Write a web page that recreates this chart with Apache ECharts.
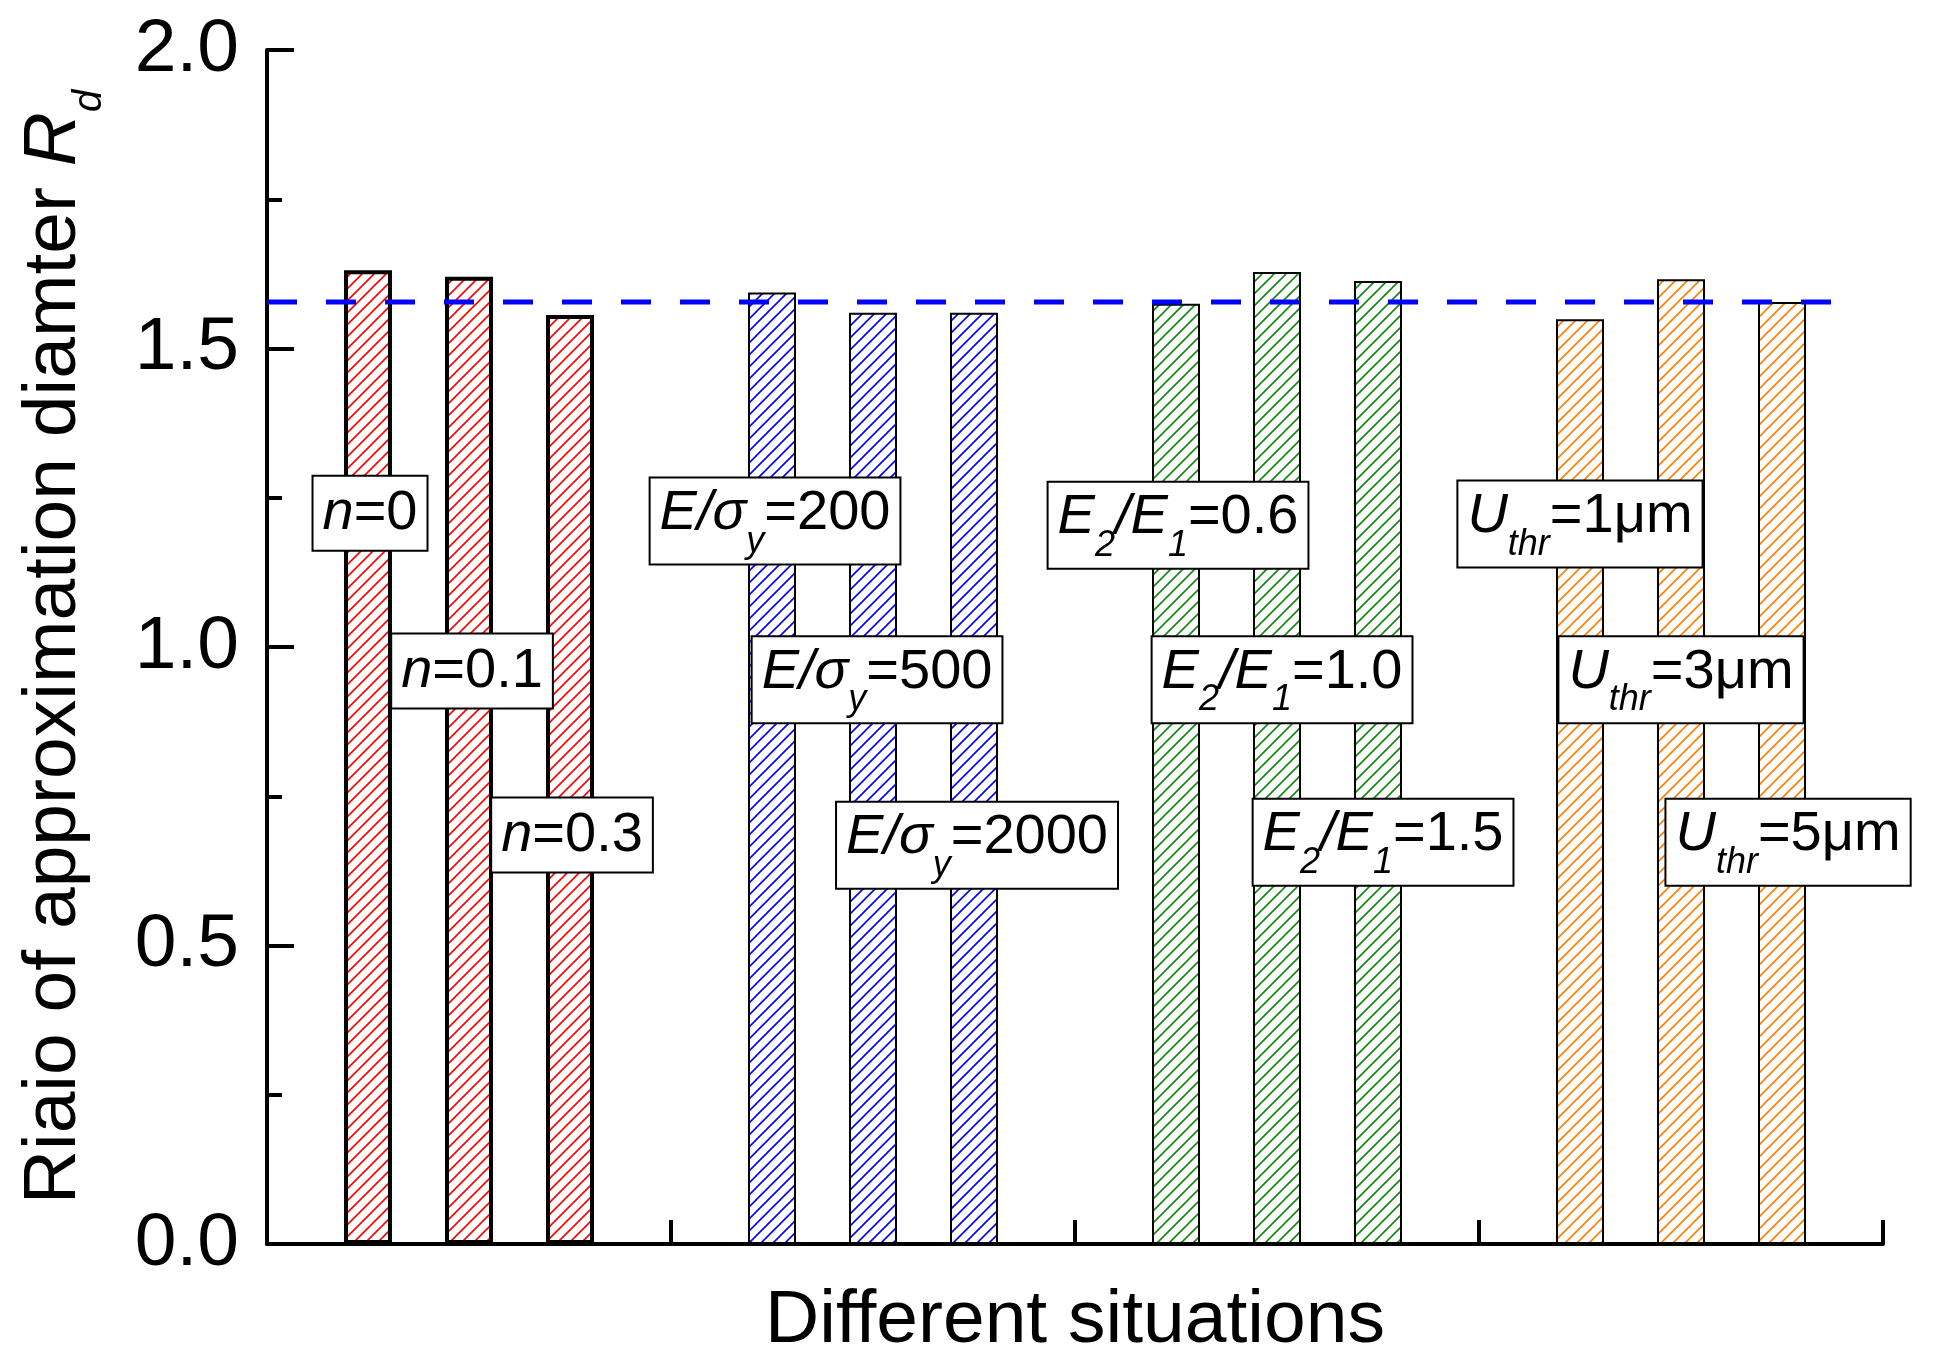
<!DOCTYPE html>
<html>
<head>
<meta charset="utf-8">
<title>Rd</title>
<script src="https://cdn.jsdelivr.net/npm/echarts@6/dist/echarts.min.js"></script>
<style>
html, body { margin: 0; padding: 0; background: #fff; }
#chart { width: 1935px; height: 1367px; }
</style>
</head>
<body>
<div id="chart"></div>
<script>
// 数据
var nX = [ 1, 2, 3 ], nValues = [ 1.631, 1.620, 1.556 ];
var eX = [ 5, 6, 7 ], eValues = [ 1.594, 1.560, 1.560 ];
var modX = [ 9, 10, 11 ], modValues = [ 1.575, 1.628, 1.613 ];
var uX = [ 13, 14, 15 ], uValues = [ 1.549, 1.616, 1.578 ];
var meanValue = 1.578, meanLineEnd = 15.5;
var labelTexts = [ '{i|n}{r|=0}', '{i|n}{r|=0.1}', '{i|n}{r|=0.3}',
		'{i|E/σ}{s|y}{r|=200}', '{i|E/σ}{s|y}{r|=500}', '{i|E/σ}{s|y}{r|=2000}',
		'{i|E}{s|2}{i|/E}{s|1}{r|=0.6}', '{i|E}{s|2}{i|/E}{s|1}{r|=1.0}', '{i|E}{s|2}{i|/E}{s|1}{r|=1.5}',
		'{i|U}{s|thr}{r|=1μm}', '{i|U}{s|thr}{r|=3μm}', '{i|U}{s|thr}{r|=5μm}' ];
var labelX = [ 1.02, 2.03, 3.02, 5.03, 6.04, 7.03, 9.02, 10.05, 11.05, 13.0, 14.0, 15.06 ];
var labelY = [ 1.224, 0.960, 0.685, 1.211, 0.945, 0.668, 1.204, 0.945, 0.673, 1.206, 0.945, 0.673 ];
var yTicks = [ '0.0', '0.5', '1.0', '1.5', '2.0' ];

var FONT = 'Liberation Sans, Arial, sans-serif';

// 斜线填充
function hatch(color) {
	var s = 12;
	var c = document.createElement('canvas');
	c.width = s;
	c.height = s;
	var ctx = c.getContext('2d');
	ctx.fillStyle = '#fff';
	ctx.fillRect(0, 0, s, s);
	ctx.strokeStyle = color;
	ctx.lineWidth = 1.6;
	ctx.beginPath();
	ctx.moveTo(0, s);
	ctx.lineTo(s, 0);
	ctx.moveTo(-2, 2);
	ctx.lineTo(2, -2);
	ctx.moveTo(s - 2, s + 2);
	ctx.lineTo(s + 2, s - 2);
	ctx.stroke();
	return {
		image : c,
		repeat : 'repeat'
	};
}

function pairs(xs, ys) {
	return xs.map(function(x, i) {
		return [ x, ys[i] ];
	});
}

function barSeries(name, xs, ys, color, border) {
	return {
		name : name,
		type : 'bar',
		barWidth : 48,
		barGap : '-100%',
		data : pairs(xs, ys),
		itemStyle : {
			color : hatch(color),
			borderColor : '#000',
			borderWidth : border
		}
	};
}

var labelData = labelTexts.map(function(t, i) {
	var hasSub = t.indexOf('{s|') >= 0;
	return {
		value : [ labelX[i], labelY[i] ],
		text : t,
		label : {
			padding : hasSub ? [ 7, 9, 4, 9 ] : [ 9, 9, 8, 9 ]
		}
	};
});

var chart = echarts.init(document.getElementById('chart'));
chart.setOption({
	animation : false,
	backgroundColor : '#fff',
	grid : {
		left : 267,
		right : 52,
		top : 50,
		bottom : 123,
		containLabel : false
	},
	xAxis : {
		type : 'value',
		min : 0,
		max : 16,
		interval : 4,
		name : 'Different situations',
		nameLocation : 'middle',
		nameGap : 40,
		nameTextStyle : {
			fontFamily : FONT,
			fontSize : 75,
			color : '#000'
		},
		axisLine : {
			lineStyle : {
				color : '#000',
				width : 4
			}
		},
		axisTick : {
			inside : true,
			length : 24,
			lineStyle : {
				color : '#000',
				width : 4
			}
		},
		minorTick : {
			show : true,
			splitNumber : 4,
			length : 24,
			lineStyle : {
				color : '#000',
				width : 4
			}
		},
		axisLabel : {
			show : false
		},
		splitLine : {
			show : false
		}
	},
	yAxis : {
		type : 'value',
		min : 0,
		max : 2,
		interval : 0.5,
		name : '{t|Riaio of approximation diamter }{it|R}{sd|d}',
		nameLocation : 'middle',
		nameGap : 157,
		nameTextStyle : {
			fontFamily : FONT,
			color : '#000',
			rich : {
				t : {
					fontFamily : FONT,
					fontSize : 75,
					verticalAlign : 'top'
				},
				it : {
					fontFamily : FONT,
					fontSize : 75,
					fontStyle : 'italic',
					verticalAlign : 'top'
				},
				sd : {
					fontFamily : FONT,
					fontSize : 40,
					fontStyle : 'italic',
					verticalAlign : 'bottom',
					lineHeight : 93
				}
			}
		},
		axisLine : {
			show : true,
			lineStyle : {
				color : '#000',
				width : 4
			}
		},
		axisTick : {
			show : true,
			inside : true,
			length : 27,
			lineStyle : {
				color : '#000',
				width : 4
			}
		},
		minorTick : {
			show : true,
			splitNumber : 2,
			length : 15,
			lineStyle : {
				color : '#000',
				width : 4
			}
		},
		axisLabel : {
			margin : 28,
			fontFamily : FONT,
			fontSize : 75,
			color : '#000',
			formatter : function(v) {
				return yTicks[Math.round(v / 0.5)];
			}
		},
		splitLine : {
			show : false
		}
	},
	series : [ barSeries('n', nX, nValues, '#ff0000', 4),
			barSeries('E/sy', eX, eValues, '#0000ff', 2),
			barSeries('E2/E1', modX, modValues, '#118811', 2),
			barSeries('Uthr', uX, uValues, '#ff8000', 2), {
				name : 'mean',
				type : 'line',
				symbol : 'none',
				z : 4,
				data : [ [ 0, meanValue ], [ meanLineEnd, meanValue ] ],
				lineStyle : {
					color : '#0000ff',
					width : 5,
					type : [ 30, 29 ]
				}
			}, {
				name : 'labels',
				type : 'scatter',
				symbolSize : 1,
				z : 5,
				itemStyle : {
					color : 'rgba(0,0,0,0)',
					opacity : 1
				},
				data : labelData,
				label : {
					show : true,
					position : 'inside',
					opacity : 1,
					backgroundColor : '#fff',
					borderColor : '#000',
					borderWidth : 2,
					color : '#000',
					formatter : function(p) {
						return p.data.text;
					},
					rich : {
						i : {
							fontFamily : FONT,
							fontSize : 56,
							fontStyle : 'italic',
							color : '#000',
							verticalAlign : 'top'
						},
						r : {
							fontFamily : FONT,
							fontSize : 56,
							color : '#000',
							verticalAlign : 'top'
						},
						s : {
							fontFamily : FONT,
							fontSize : 36,
							fontStyle : 'italic',
							color : '#000',
							verticalAlign : 'bottom',
							lineHeight : 74
						}
					}
				}
			} ]
});
</script>
</body>
</html>
